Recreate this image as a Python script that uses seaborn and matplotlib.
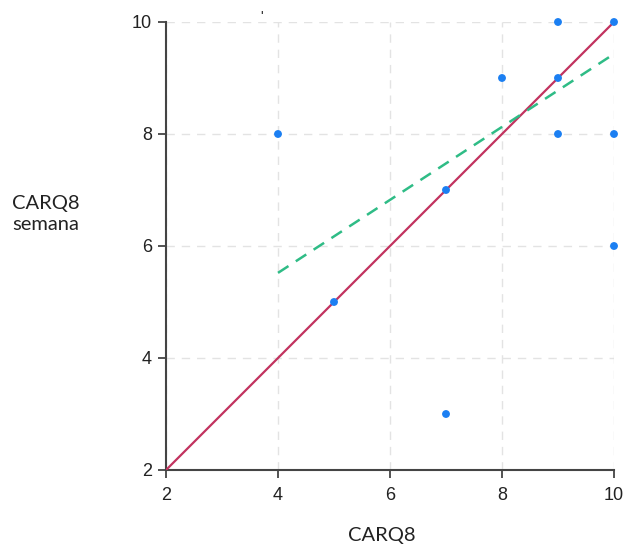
import matplotlib
matplotlib.use("Agg")
import matplotlib.pyplot as plt
import seaborn as sns
import pandas as pd

# Observed pairs
carq8 = [4, 5, 7, 7, 8, 9, 9, 9, 10, 10, 10]
carq8_semana = [8, 5, 7, 3, 9, 10, 9, 8, 10, 8, 6]

# Identity reference line and fitted trend
identity_x = [2, 10]
identity_y = [2, 10]
fit_x = [4, 10]
fit_y = [5.52, 9.43]

ticks = [2, 4, 6, 8, 10]

sns.set_theme(style="white")
plt.rcParams["font.family"] = ["Liberation Sans", "DejaVu Sans"]

fig = plt.figure(figsize=(6.28, 5.45), dpi=100)
ax = fig.add_axes([166 / 628, 1 - 470 / 545, (614 - 166) / 628, (470 - 22) / 545])

df = pd.DataFrame({"x": carq8, "y": carq8_semana})
ident = pd.DataFrame({"x": identity_x, "y": identity_y})
fit = pd.DataFrame({"x": fit_x, "y": fit_y})

sns.lineplot(data=ident, x="x", y="y", ax=ax, color="#c2335f", linewidth=1.6, zorder=3)
sns.lineplot(data=fit, x="x", y="y", ax=ax, color="#2fbc86", linewidth=1.8,
             linestyle=(0, (5, 3.5)), zorder=3)
sns.scatterplot(data=df, x="x", y="y", ax=ax, color="#1b7ff2", s=32,
                edgecolor="none", zorder=4, clip_on=False)

ax.set_xlim(2, 10)
ax.set_ylim(2, 10)
ax.set_xticks(ticks)
ax.set_yticks(ticks)
ax.set_xticklabels([str(t) for t in ticks])
ax.set_yticklabels([str(t) for t in ticks])

ax.grid(True, color="#e3e3e3", linestyle=(0, (6, 5)), linewidth=1.0)
ax.set_axisbelow(True)

for side in ["top", "right"]:
    ax.spines[side].set_visible(False)
for side in ["left", "bottom"]:
    ax.spines[side].set_color("#444444")
    ax.spines[side].set_linewidth(1.5)

ax.tick_params(axis="x", pad=6)
ax.tick_params(axis="y", pad=4)
ax.tick_params(axis="both", which="major", direction="out", length=6, width=1.3,
               color="#444444", labelsize=13, labelcolor="#222222",
               bottom=True, left=True)

ax.set_xlabel("")
ax.set_ylabel("")

label_font = ["Lato", "DejaVu Sans"]
fig.text(382 / 628, 1 - 535 / 545, "CARQ8", ha="center", va="center",
         fontsize=14.5, family=label_font, color="#222222")
fig.text(12 / 628, 1 - 214 / 545, "CARQ8\nsemana", ha="left", va="center",
         fontsize=14.5, family=label_font, color="#222222", linespacing=1.3)
fig.text(262 / 628, 1 - 17 / 545, "'", ha="center", va="center",
         fontsize=10, color="#222222")

fig.savefig("out.png", dpi=100)
